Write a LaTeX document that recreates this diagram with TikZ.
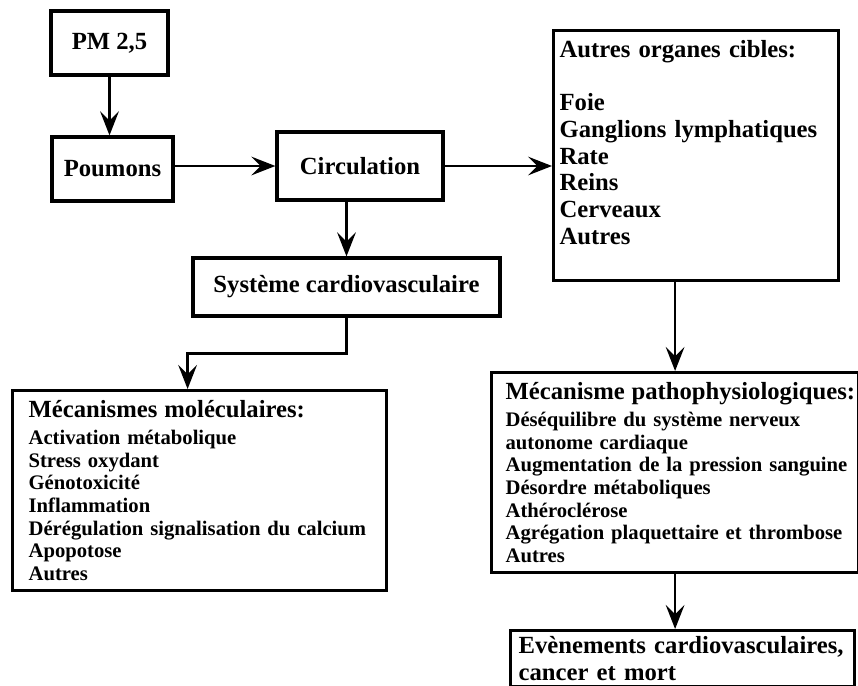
\documentclass[tikz,border=0pt]{standalone}
\usepackage{fontspec}
\setmainfont{Liberation Serif}
\usetikzlibrary{positioning, calc, arrows.meta}

\begin{document}
\begin{tikzpicture}[x=0.75pt, y=-0.75pt,
  box/.style={draw, line width=2.4pt, inner sep=0pt, font=\bfseries\fontsize{18.5}{20}\selectfont},
  listbox/.style={draw, line width=2.4pt, anchor=north west, align=left, font=\bfseries\fontsize{15.5}{17}\selectfont},
  titre/.style={font=\bfseries\fontsize{18.5}{20}\selectfont},
  flow/.style={line width=2pt, -{Stealth[length=18pt, width=14pt, inset=7pt]}}]

% Manually size the picture
\useasboundingbox (0,0) rectangle (858,686);

% Boxes
\node[box, minimum width=87.75pt, minimum height=48pt] (pm) at (109.5,43) {PM 2,5};
\node[box, minimum width=90.75pt, minimum height=48pt] (poumons) at (112.5,169) {Poumons};
\node[box, minimum width=124.5pt, minimum height=51pt] (circ) at (360,166) {Circulation};
\node[box, minimum width=230.25pt, minimum height=43.5pt] (sys) at (346.5,287) {Système cardiovasculaire};

\node[listbox, titre, text width=204.75pt, inner xsep=4.5pt, minimum height=187.5pt] (organes) at (552,29)
  {Autres organes cibles:\\[20pt] Foie\\ Ganglions lymphatiques\\ Rate\\ Reins\\ Cerveaux\\ Autres\\ \mbox{}};

\node[listbox, text width=256.5pt, inner xsep=12pt, minimum height=150pt] (molec) at (11,389)
  {{\fontsize{18.5}{20}\selectfont Mécanismes moléculaires:}\\[3pt]
   Activation métabolique\\ Stress oxydant\\ Génotoxicité\\ Inflammation\\
   \mbox{Dérégulation signalisation du calcium}\\ Apopotose\\ Autres};

\node[listbox, text width=254.25pt, inner xsep=10.5pt, minimum height=150pt] (patho) at (490,371)
  {\mbox{\fontsize{18.5}{20}\selectfont Mécanisme pathophysiologiques:}\\[3pt]
   \mbox{Déséquilibre du système nerveux}\\ autonome cardiaque\\
   \mbox{Augmentation de la pression sanguine}\\ Désordre métaboliques\\ Athéroclérose\\
   \mbox{Agrégation plaquettaire et thrombose}\\ Autres};

\node[listbox, titre, text width=246pt, inner xsep=6pt, minimum height=42pt] (evenements) at (509,629)
  {\mbox{Evènements cardiovasculaires,}\\ cancer et mort};

% Arrows
\draw[flow] (pm.south) -- (pm.south |- poumons.north);
\draw[flow] (circ.west -| poumons.east) -- (circ.west);
\draw[flow] (circ.east) -- (circ.east -| organes.west);
\draw[flow] (sys.north |- circ.south) -- (sys.north);
\draw[flow] (sys.south) -- ++(0,36) -| ([xshift=-9pt]molec.north);
\draw[flow] (organes.south -| patho.north) -- (patho.north);
\draw[flow] (patho.south) -- (patho.south |- evenements.north);

\end{tikzpicture}
\end{document}
